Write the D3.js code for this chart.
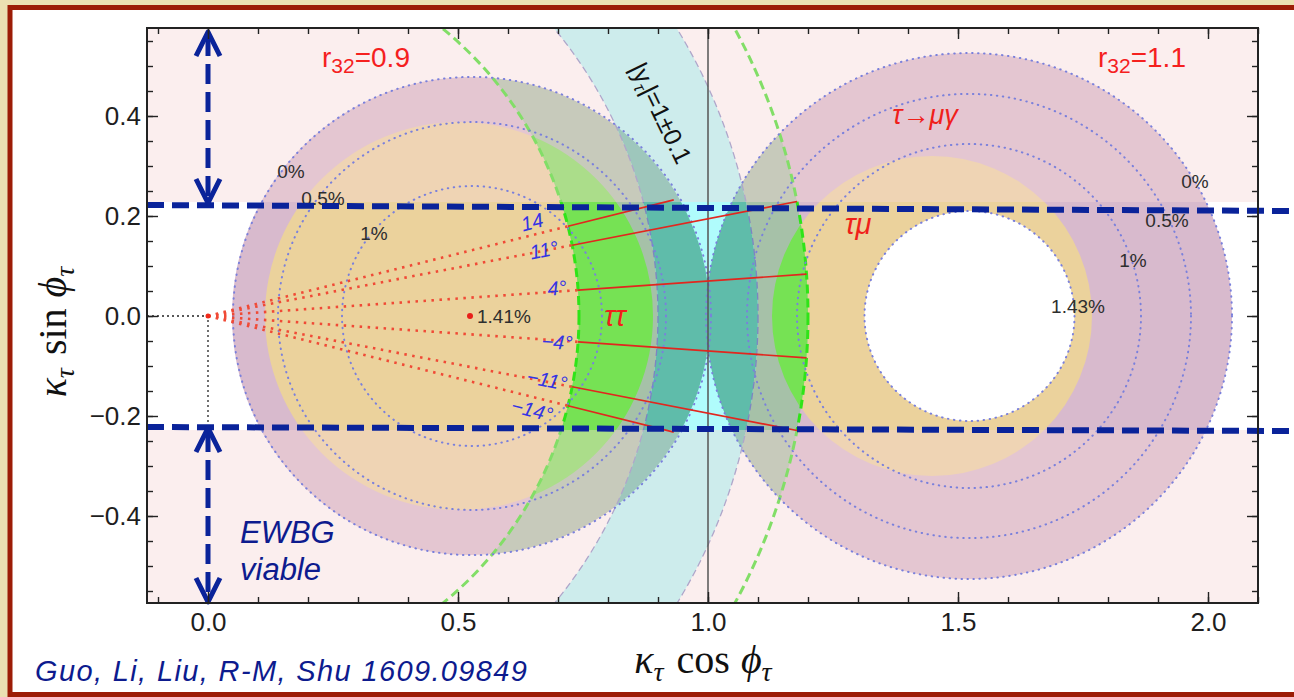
<!DOCTYPE html>
<html>
<head>
<meta charset="utf-8">
<script src="https://cdn.jsdelivr.net/npm/d3@7"></script>
<style>
body { margin: 0; background: #ebe0b2; }
svg { display: block; font-family: "Liberation Sans", Arial, sans-serif; }
</style>
</head>
<body>
<svg id="chart" width="1294" height="697"></svg>
<script>
// ---- data (kappa plane) ----
var xTicks = [0, 0.5, 1, 1.5, 2];
var yTicks = [-0.4, -0.2, 0, 0.2, 0.4];
var muGammaDisks = [{cx: 0.526, r: 0.478}, {cx: 1.522, r: 0.526}];   // tau -> mu gamma
var tauMuDisks = [{cx: 0.502, r: 0.388}, {cx: 1.448, r: 0.32}];       // h -> tau mu
var holeDisks = [{cx: 1.523, r: 0.21}];
var tautauRadii = [0.742, 1.2];                                         // h -> tau tau
var yukawaRadii = [0.9, 1.1];                                           // |y_tau| = 1 +- 0.1
var contourCircles = [
    {cx: 0.528, r: 0.478}, {cx: 0.528, r: 0.388}, {cx: 0.528, r: 0.26},
    {cx: 1.522, r: 0.526}, {cx: 1.522, r: 0.444}, {cx: 1.522, r: 0.344}, {cx: 1.523, r: 0.21}
];
var contourLabels = [
    {t: '0%', x: 0.166, y: 0.276}, {t: '0.5%', x: 0.23, y: 0.222}, {t: '1%', x: 0.332, y: 0.152},
    {t: '0%', x: 1.974, y: 0.256}, {t: '0.5%', x: 1.918, y: 0.178}, {t: '1%', x: 1.85, y: 0.098},
    {t: '1.43%', x: 1.74, y: 0.006}
];
var maxPoint = {x: 0.524, y: 0, t: '1.41%'};
var rays = [
    {deg: 14, rIn: 0.742, rOut: 0.96}, {deg: 11, rIn: 0.742, rOut: 1.2}, {deg: 4, rIn: 0.742, rOut: 1.2},
    {deg: -4, rIn: 0.742, rOut: 1.2}, {deg: -11, rIn: 0.742, rOut: 1.2}, {deg: -14, rIn: 0.742, rOut: 0.96}
];
var rayLabels = [
    {t: '14', x: 0.648, y: 0.188, deg: 14}, {t: '11°', x: 0.672, y: 0.132, deg: 11},
    {t: '4°', x: 0.698, y: 0.056, deg: 4}, {t: '−4°', x: 0.698, y: -0.052, deg: -4},
    {t: '−11°', x: 0.678, y: -0.128, deg: -11}, {t: '−14°', x: 0.648, y: -0.188, deg: -14}
];
var ewbgEdge = 0.228;
var ewbgLines = [{x0: -0.122, x1: 2.172, y0: 0.222, y1: 0.21}, {x0: -0.122, x1: 2.172, y0: -0.222, y1: -0.23}];
var ewbgArrows = [{y0: 0.568, y1: 0.226}, {y0: -0.224, y1: -0.572}];

var W = 1294, H = 697;
var svg = d3.select('#chart');
var x = d3.scaleLinear().domain([-0.122, 2.1]).range([147, 1258]);
var y = d3.scaleLinear().domain([-0.574, 0.576]).range([603, 28]);
var rpx = r => x(r) - x(0);

function circlePath(cx, cy, r) {
    var p = d3.path();
    p.moveTo(x(cx) + rpx(r), y(cy));
    p.arc(x(cx), y(cy), rpx(r), 0, 2 * Math.PI);
    p.closePath();
    return p.toString();
}
function annulusPath(radii) {
    return circlePath(0, 0, radii[1]) + circlePath(0, 0, radii[0]);
}

// page frame
svg.append('rect').attr('x', 10).attr('y', 7.5).attr('width', 1300).attr('height', 687)
    .attr('fill', '#fff').attr('stroke', '#9c1c06').attr('stroke-width', 5);

var defs = svg.append('defs');
defs.append('clipPath').attr('id', 'plotClip').append('rect')
    .attr('x', x.range()[0]).attr('y', y.range()[1])
    .attr('width', x.range()[1] - x.range()[0]).attr('height', y.range()[0] - y.range()[1]);
defs.append('clipPath').attr('id', 'muGammaClip').selectAll('path').data(muGammaDisks)
    .enter().append('path').attr('d', d => circlePath(d.cx, 0, d.r));
defs.append('clipPath').attr('id', 'tauMuClip').selectAll('path').data(tauMuDisks)
    .enter().append('path').attr('d', d => circlePath(d.cx, 0, d.r));

var plot = svg.append('g').attr('clip-path', 'url(#plotClip)');
plot.append('rect').attr('x', x.range()[0]).attr('y', y.range()[1])
    .attr('width', x.range()[1] - x.range()[0]).attr('height', y.range()[0] - y.range()[1])
    .attr('fill', '#fff');

// constraint regions
plot.selectAll('.mug').data(muGammaDisks).enter().append('path')
    .attr('d', d => circlePath(d.cx, 0, d.r)).attr('fill', '#d8bacd');
plot.selectAll('.tmu').data(tauMuDisks).enter().append('path')
    .attr('d', d => circlePath(d.cx, 0, d.r)).attr('fill', '#ebd29c');
plot.append('g').attr('clip-path', 'url(#muGammaClip)').append('path')
    .attr('d', annulusPath(tautauRadii)).attr('fill-rule', 'evenodd').attr('fill', '#a6c1a8');
plot.append('g').attr('clip-path', 'url(#tauMuClip)').append('path')
    .attr('d', annulusPath(tautauRadii)).attr('fill-rule', 'evenodd').attr('fill', '#76e254');
plot.append('path').attr('d', annulusPath(yukawaRadii)).attr('fill-rule', 'evenodd').attr('fill', '#b0fcfc');
plot.append('g').attr('clip-path', 'url(#muGammaClip)').append('path')
    .attr('d', annulusPath(yukawaRadii)).attr('fill-rule', 'evenodd').attr('fill', '#5fbcaa');
plot.selectAll('.hole').data(holeDisks).enter().append('path')
    .attr('d', d => circlePath(d.cx, 0, d.r)).attr('fill', '#fff');

// boundaries of the tau-tau and yukawa bands
plot.selectAll('.yb').data(yukawaRadii).enter().append('path')
    .attr('d', r => circlePath(0, 0, r)).attr('fill', 'none')
    .attr('stroke', '#7d84c2').attr('stroke-width', 1.3).attr('stroke-dasharray', '7,4');
plot.selectAll('.tb').data(tautauRadii).enter().append('path')
    .attr('d', r => circlePath(0, 0, r)).attr('fill', 'none')
    .attr('stroke', '#2fe418').attr('stroke-width', 3).attr('stroke-dasharray', '9,5');

// EWBG-excluded haze
plot.append('rect').attr('x', x.range()[0]).attr('y', y.range()[1])
    .attr('width', x.range()[1] - x.range()[0]).attr('height', y(ewbgEdge) - y.range()[1])
    .attr('fill', '#f6d6d6').attr('opacity', 0.42);
plot.append('rect').attr('x', x.range()[0]).attr('y', y(-ewbgEdge))
    .attr('width', x.range()[1] - x.range()[0]).attr('height', y.range()[0] - y(-ewbgEdge))
    .attr('fill', '#f6d6d6').attr('opacity', 0.42);

// Br(h->tau mu) contours
plot.selectAll('.ct').data(contourCircles).enter().append('path')
    .attr('d', d => circlePath(d.cx, 0, d.r)).attr('fill', 'none')
    .attr('stroke', '#7a80dc').attr('stroke-width', 2).attr('stroke-dasharray', '0.5,5.5')
    .attr('stroke-linecap', 'round');

// reference lines
plot.append('line').attr('x1', x(1)).attr('x2', x(1)).attr('y1', y.range()[1]).attr('y2', y.range()[0])
    .attr('stroke', '#555').attr('stroke-width', 1.5);
plot.append('path').attr('d', d3.line()([[x(-0.122), y(0)], [x(0), y(0)], [x(0), y(-0.222)]]))
    .attr('fill', 'none').attr('stroke', '#222').attr('stroke-width', 1.3).attr('stroke-dasharray', '2,3');

// phase rays
var rad = d => d * Math.PI / 180;
plot.selectAll('.rd').data(rays).enter().append('line')
    .attr('x1', x(0)).attr('y1', y(0))
    .attr('x2', d => x(d.rIn * Math.cos(rad(d.deg)))).attr('y2', d => y(d.rIn * Math.sin(rad(d.deg))))
    .attr('stroke', '#f04a36').attr('stroke-width', 2.6).attr('stroke-dasharray', '2.5,5.5');
plot.selectAll('.rs').data(rays).enter().append('line')
    .attr('x1', d => x(d.rIn * Math.cos(rad(d.deg)))).attr('y1', d => y(d.rIn * Math.sin(rad(d.deg))))
    .attr('x2', d => x(d.rOut * Math.cos(rad(d.deg)))).attr('y2', d => y(d.rOut * Math.sin(rad(d.deg))))
    .attr('stroke', '#e2261e').attr('stroke-width', 1.6);
plot.append('circle').attr('cx', x(0)).attr('cy', y(0)).attr('r', 2.5).attr('fill', '#f02a1a');
plot.append('circle').attr('cx', x(maxPoint.x)).attr('cy', y(maxPoint.y)).attr('r', 3).attr('fill', '#e8201a');

// labels
plot.selectAll('.cl').data(contourLabels).enter().append('text')
    .attr('x', d => x(d.x)).attr('y', d => y(d.y)).attr('text-anchor', 'middle')
    .attr('font-size', 19).attr('fill', '#2e2e2e').text(d => d.t);
plot.append('text').attr('x', x(maxPoint.x) + 7).attr('y', y(maxPoint.y) + 7)
    .attr('font-size', 19).attr('fill', '#2e2e2e').text(maxPoint.t);
plot.selectAll('.rl').data(rayLabels).enter().append('text')
    .attr('transform', d => `translate(${x(d.x)},${y(d.y)}) rotate(${-d.deg})`)
    .attr('text-anchor', 'middle').attr('dy', '0.35em')
    .attr('font-size', 20).attr('font-style', 'italic').attr('fill', '#3434e4').text(d => d.t);

var redLabels = [
    {t: 'τ→μγ', x: 1.434, y: 0.384, size: 27},
    {t: 'τμ', x: 1.3, y: 0.164, size: 29},
    {t: 'ττ', x: 0.814, y: -0.02, size: 29}
];
plot.selectAll('.rlab').data(redLabels).enter().append('text')
    .attr('x', d => x(d.x)).attr('y', d => y(d.y)).attr('text-anchor', 'middle')
    .attr('font-size', d => d.size).attr('font-style', 'italic').attr('fill', '#f0201a').text(d => d.t);

var ratioLabels = [{v: '0.9', x: 0.228, y: 0.498}, {v: '1.1', x: 1.78, y: 0.498}];
ratioLabels.forEach(function (d) {
    var t = plot.append('text').attr('x', x(d.x)).attr('y', y(d.y)).attr('font-size', 28).attr('fill', '#f5201e');
    t.append('tspan').text('r');
    t.append('tspan').attr('font-size', 21).attr('dy', 6).text('32');
    t.append('tspan').attr('dy', -6).text('=' + d.v);
});

var yuk = plot.append('text')
    .attr('transform', `translate(${x(0.906)},${y(0.406)}) rotate(64)`)
    .attr('text-anchor', 'middle').attr('dy', '0.35em').attr('font-size', 25).attr('fill', '#111');
yuk.append('tspan').text('|y');
yuk.append('tspan').attr('font-size', 17).attr('dy', 5).attr('font-style', 'italic').text('τ');
yuk.append('tspan').attr('dy', -5).text('|=1±0.1');

// EWBG boundaries and arrows
var navy = '#0a239a';
svg.selectAll('.ew').data(ewbgLines).enter().append('line')
    .attr('x1', d => x(d.x0)).attr('x2', d => x(d.x1)).attr('y1', d => y(d.y0)).attr('y2', d => y(d.y1))
    .attr('stroke', navy).attr('stroke-width', 6).attr('stroke-dasharray', '17,8');
ewbgArrows.forEach(function (a) {
    var ax = x(0), top = y(a.y0), bot = y(a.y1);
    svg.append('line').attr('x1', ax).attr('x2', ax).attr('y1', top + 4).attr('y2', bot - 4)
        .attr('stroke', navy).attr('stroke-width', 5).attr('stroke-dasharray', '20,8');
    svg.append('path').attr('d', `M${ax - 12},${top + 24}L${ax},${top}L${ax + 12},${top + 24}`)
        .attr('fill', 'none').attr('stroke', navy).attr('stroke-width', 5).attr('stroke-linejoin', 'round');
    svg.append('path').attr('d', `M${ax - 12},${bot - 24}L${ax},${bot}L${ax + 12},${bot - 24}`)
        .attr('fill', 'none').attr('stroke', navy).attr('stroke-width', 5).attr('stroke-linejoin', 'round');
});
svg.append('text').attr('x', x(0.064)).attr('y', y(-0.454)).attr('font-size', 31)
    .attr('font-style', 'italic').attr('fill', '#0d1b8e').text('EWBG');
svg.append('text').attr('x', x(0.064)).attr('y', y(-0.528)).attr('font-size', 31)
    .attr('font-style', 'italic').attr('fill', '#0d1b8e').text('viable');

// axes (frame ticks pointing inward)
var xMinor = d3.range(-1, 22).map(i => i / 10);
var yMinor = d3.range(-11, 12).map(i => i / 20);
var fmt = d3.format('.1f');
function clean(g) {
    g.select('.domain').remove();
    g.selectAll('.tick line').attr('stroke', '#222').attr('stroke-width', 1.4);
    g.selectAll('text').attr('font-size', 26).attr('fill', '#1e1e1e')
        .attr('font-family', '"Liberation Sans", Arial, sans-serif');
}
var x0 = y.range()[0], x1 = y.range()[1], yL = x.range()[0], yR = x.range()[1];
svg.append('g').attr('transform', `translate(0,${x0})`).call(d3.axisBottom(x).tickValues(xMinor).tickSize(-6).tickFormat('')).call(clean);
svg.append('g').attr('transform', `translate(0,${x0})`).call(d3.axisBottom(x).tickValues(xTicks).tickSize(-11).tickPadding(10).tickFormat(fmt)).call(clean);
svg.append('g').attr('transform', `translate(0,${x1})`).call(d3.axisTop(x).tickValues(xMinor).tickSize(-6).tickFormat('')).call(clean);
svg.append('g').attr('transform', `translate(0,${x1})`).call(d3.axisTop(x).tickValues(xTicks).tickSize(-11).tickFormat('')).call(clean);
svg.append('g').attr('transform', `translate(${yL},0)`).call(d3.axisLeft(y).tickValues(yMinor).tickSize(-6).tickFormat('')).call(clean);
svg.append('g').attr('transform', `translate(${yL},0)`).call(d3.axisLeft(y).tickValues(yTicks).tickSize(-11).tickPadding(6).tickFormat(fmt)).call(clean);
svg.append('g').attr('transform', `translate(${yR},0)`).call(d3.axisRight(y).tickValues(yMinor).tickSize(-6).tickFormat('')).call(clean);
svg.append('g').attr('transform', `translate(${yR},0)`).call(d3.axisRight(y).tickValues(yTicks).tickSize(-11).tickFormat('')).call(clean);
svg.append('rect').attr('x', yL).attr('y', x1).attr('width', yR - yL).attr('height', x0 - x1)
    .attr('fill', 'none').attr('stroke', '#222').attr('stroke-width', 2);

// axis titles
var serif = '"Liberation Serif", "DejaVu Serif", serif';
function mathTitle(sel, fn) {
    sel.attr('font-family', serif).attr('font-size', 40).attr('fill', '#111').attr('text-anchor', 'middle');
    sel.append('tspan').attr('font-style', 'italic').text('κ');
    sel.append('tspan').attr('font-style', 'italic').attr('font-size', 28).attr('dy', 8).text('τ');
    sel.append('tspan').attr('dy', -8).attr('dx', 13).text(fn);
    sel.append('tspan').attr('dx', 11).attr('font-style', 'italic').text('ϕ');
    sel.append('tspan').attr('font-style', 'italic').attr('font-size', 28).attr('dy', 8).text('τ');
}
mathTitle(svg.append('text').attr('x', 703).attr('y', 673), 'cos');
mathTitle(svg.append('text').attr('transform', 'translate(66,332) rotate(-90)'), 'sin');

svg.append('text').attr('x', 35).attr('y', 681).attr('font-size', 29).attr('font-style', 'italic')
    .attr('textLength', 492).attr('lengthAdjust', 'spacing')
    .attr('fill', '#0d1b8e').text('Guo, Li, Liu, R-M, Shu 1609.09849');
</script>
</body>
</html>
